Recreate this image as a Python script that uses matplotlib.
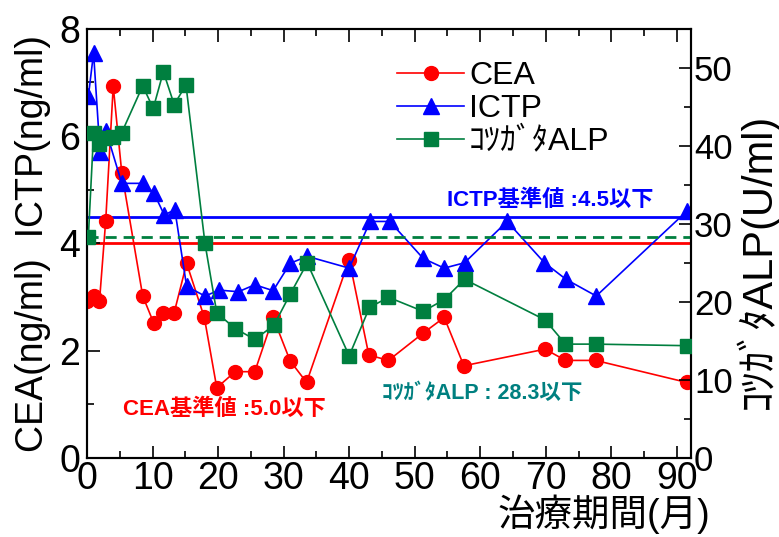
import matplotlib
matplotlib.use("Agg")
import matplotlib.pyplot as plt
from matplotlib.lines import Line2D
from matplotlib.ticker import MultipleLocator

plt.rcParams['font.family'] = ['Liberation Sans Narrow', 'Liberation Sans', 'Noto Sans CJK JP', 'DejaVu Sans']

# ---- data ----
cea_x = [0, 1.1, 1.9, 2.85, 4.0, 5.3, 8.5, 10.2, 11.55, 13.3, 15.2, 17.9, 19.8, 22.6, 25.6,
         28.4, 31.0, 33.5, 40.0, 43.0, 46.0, 51.3, 54.5, 57.5, 69.9, 73.0, 77.6, 91.5]
cea_y = [2.92, 3.02, 2.92, 4.42, 6.93, 5.32, 3.02, 2.51, 2.71, 2.71, 3.63, 2.62, 1.31, 1.61, 1.61,
         2.62, 1.81, 1.41, 3.70, 1.92, 1.82, 2.33, 2.62, 1.72, 2.03, 1.82, 1.82, 1.41]

ictp_x = [0.2, 1.0, 1.98, 2.9, 5.3, 8.6, 10.2, 11.8, 13.4, 15.2, 18.0, 20.2, 23.1, 25.6,
          28.4, 31.0, 33.6, 40.0, 43.2, 46.2, 51.3, 54.5, 57.6, 64.1, 69.8, 73.1, 77.7, 91.5]
ictp_y = [6.74, 7.55, 5.71, 6.10, 5.12, 5.12, 4.94, 4.53, 4.63, 3.20, 3.02, 3.13, 3.10, 3.23,
          3.12, 3.63, 3.76, 3.54, 4.41, 4.41, 3.72, 3.54, 3.64, 4.41, 3.64, 3.33, 3.02, 4.60]

alp_x = [0.2, 1.0, 1.9, 2.75, 4.0, 5.3, 8.5, 10.1, 11.65, 13.3, 15.1, 18.0, 19.8, 22.6, 25.6,
         28.5, 31.0, 33.6, 40.0, 43.1, 46.0, 51.3, 54.5, 57.6, 69.9, 73.0, 77.6, 91.5]
alp_y = [28.3, 41.6, 40.3, 41.0, 41.2, 41.7, 47.7, 44.8, 49.5, 45.3, 47.8, 27.5, 18.6, 16.6, 15.2,
         17.0, 21.0, 25.0, 13.1, 19.3, 20.6, 18.8, 20.3, 22.9, 17.7, 14.6, 14.6, 14.4]

ictp_ref = 4.5
cea_ref = 4.0
alp_ref = 28.3

series_names = ['CEA', 'ICTP', 'ｺﾂｶﾞﾀALP']
x_ticks = [0, 10, 20, 30, 40, 50, 60, 70, 80, 90]
left_ticks = [0, 2, 4, 6, 8]
right_ticks = [0, 10, 20, 30, 40, 50]

RED = '#FF0000'
BLUE = '#0000FF'
GREEN = '#007F3F'
TEAL = '#008080'

fig = plt.figure(figsize=(7.79, 5.37), dpi=100)
ax = fig.add_axes([0.1117, 0.147, 0.7757, 0.7993])
ax2 = ax.twinx()

ax.set_xlim(0, 92.2)
ax.set_ylim(0, 8)
ax2.set_ylim(0, 55)

# reference lines
ax.axhline(cea_ref, color=RED, lw=2.0, zorder=1)
ax.axhline(ictp_ref, color=BLUE, lw=2.0, zorder=1)
ax2.axhline(alp_ref, color=GREEN, lw=2.0, ls=(0, (4, 2.5)), zorder=1)

ax.plot(cea_x, cea_y, color=RED, lw=1.2, marker='o', ms=10, mec=RED, mfc=RED, zorder=3)
ax.plot(ictp_x, ictp_y, color=BLUE, lw=1.2, marker='^', ms=11.5, mec=BLUE, mfc=BLUE, zorder=4)
ax2.plot(alp_x, alp_y, color=GREEN, lw=1.2, marker='s', ms=9.5, mec=GREEN, mfc=GREEN, zorder=3)

# ticks
FS = 27
ax.set_xticks(x_ticks)
ax.set_yticks(left_ticks)
ax2.set_yticks(right_ticks)
ax.xaxis.set_minor_locator(MultipleLocator(5))
ax.yaxis.set_minor_locator(MultipleLocator(1))
ax2.yaxis.set_minor_locator(MultipleLocator(5))
ax.tick_params(axis='both', which='major', direction='in', length=9, width=1.2, labelsize=FS, top=True, right=False)
ax.tick_params(axis='both', which='minor', direction='in', length=5, width=1.2, top=True, right=False)
ax2.tick_params(axis='y', which='major', direction='in', length=9, width=1.2, labelsize=25)
ax2.tick_params(axis='y', which='minor', direction='in', length=5, width=1.2)
ax.tick_params(axis='x', pad=2)
ax.tick_params(axis='y', pad=5)
ax2.tick_params(axis='y', pad=2)
for s in ax.spines.values():
    s.set_linewidth(1.5)
for s in ax2.spines.values():
    s.set_linewidth(1.5)

ax.set_ylabel('CEA(ng/ml)  ICTP(ng/ml)', fontsize=FS, labelpad=6)
ax2.set_ylabel('ｺﾂｶﾞﾀALP(U/ml)', fontsize=30)
ax2.yaxis.set_label_coords(1.072, 0.46)
fig.text(0.912, 0.005, '治療期間(月)', fontsize=FS, ha='right', va='bottom')

# annotations
AFS = 16
ax.text(55.0, 4.81, 'ICTP基準値 :4.5以下', color=BLUE, fontsize=AFS, fontweight='bold', va='center', ha='left')
ax.text(5.5, 0.90, 'CEA基準値 :5.0以下', color=RED, fontsize=AFS, fontweight='bold', va='center', ha='left')
ax.text(45.0, 1.21, 'ｺﾂｶﾞﾀALP : 28.3以下', color=TEAL, fontsize=15.5, fontweight='bold', va='center', ha='left')

handles = [
    Line2D([], [], color=RED, lw=1.2, marker='o', ms=10),
    Line2D([], [], color=BLUE, lw=1.2, marker='^', ms=11.5),
    Line2D([], [], color=GREEN, lw=1.2, marker='s', ms=9.5),
]
ax2.legend(handles, series_names, loc='upper left', bbox_to_anchor=(0.513, 0.925), frameon=False,
           fontsize=23, handlelength=2.1, handletextpad=0.15, labelspacing=0.1, borderaxespad=0,
           borderpad=0)

fig.savefig('out.png', dpi=100)
